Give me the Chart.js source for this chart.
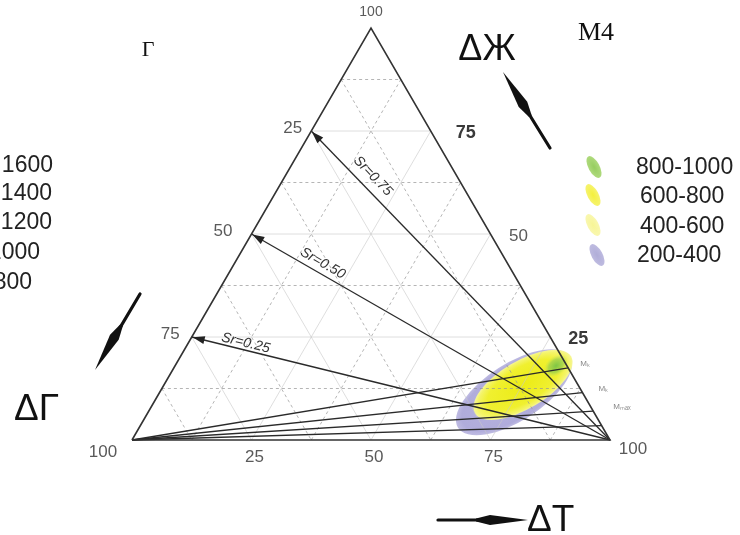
<!DOCTYPE html>
<html><head><meta charset="utf-8">
<script src="https://cdn.jsdelivr.net/npm/chart.js@4/dist/chart.umd.min.js"></script>
<style>html,body{margin:0;padding:0;background:#fff;overflow:hidden}#wrap{position:relative;width:740px;height:535px}</style>
</head><body><div id="wrap"><canvas id="c" width="740" height="535"></canvas></div>
<script>
// ---------------- DATA ----------------
const componentNames = ['ΔГ', 'ΔЖ', 'ΔT'];           // bottom-left, top, bottom-right vertices
const edgeTicks = [25, 50, 75];                       // labelled ticks on each side
const vertexTick = 100;
const gridLevels = [12.5, 25, 37.5, 50, 62.5, 75, 87.5];
const srLabels = ['Sr=0.75', 'Sr=0.50', 'Sr=0.25'];
const srStartG = [25, 50, 75];                        // Sr lines start on Г–Ж side at these ΔГ values, end at ΔT=100
const mEndJ = [17.5, 11.5, 7, 3.5];                   // M lines from ΔГ=100 to Ж–T side at these ΔЖ values
const mLabels = ['Mₖ', 'Mₖ', 'Mₘₐₓ'];
const rangeCategories = ['800-1000', '600-800', '400-600', '200-400'];
const leftScaleLabels = ['1600', '1400', '1200', '1000', '800'];
// regions: centre (Г,Ж,T), end of major axis (Г,Ж,T), minor half-width (% of side)
const regionPurple = { c: [14.3, 11.6, 74.1], e: [-1.7, 20.2, 81.5], w: 6.0 };
const regionYellow = { c: [11.5, 13.4, 75.1], e: [-2.0, 20.3, 81.7], w: 5.0 };
const regionGreen  = { c: [2.3, 18.0, 79.7], e: [-1.0, 20.1, 80.9], w: 2.0 };
const panelTitle = 'М4';
const sideLetter = 'Г';

// ---------------- HELPERS ----------------
function tp(g, j, t) { const s = g + j + t; return { x: (t + j / 2) / s * 100, y: j / s * 100 }; }
const PXX = 4.78, PXY = 4.12;               // px per data unit (layout)
const XMIN = -132 / PXX, XMAX = XMIN + 740 / PXX;
const YMAX = 100 + 28 / PXY, YMIN = YMAX - 535 / PXY;

function lineDS(pts, color, width, dash, order) {
  return { data: pts, showLine: true, borderColor: color, borderWidth: width, borderDash: dash || [],
           pointRadius: 0, pointHoverRadius: 0, fill: false, order: order, tension: 0 };
}
const datasets = [];
// grid
gridLevels.forEach(v => {
  const major = (v % 25 === 0);
  const col = major ? 'rgba(200,200,200,0.6)' : 'rgba(150,150,150,0.7)';
  const dash = major ? [] : [3, 3];
  datasets.push(lineDS([tp(100 - v, v, 0), tp(0, v, 100 - v)], col, 1, dash, 10));
  datasets.push(lineDS([tp(100 - v, 0, v), tp(0, 100 - v, v)], col, 1, dash, 10));
  datasets.push(lineDS([tp(v, 100 - v, 0), tp(v, 0, 100 - v)], col, 1, dash, 10));
});
// triangle
datasets.push(lineDS([tp(100, 0, 0), tp(0, 0, 100), tp(0, 100, 0), tp(100, 0, 0)], '#333', 1.6, [], 1));
// Sr lines
srStartG.forEach(g => datasets.push(lineDS([tp(g, 100 - g, 0), tp(0, 0, 100)], '#2a2a2a', 1.3, [], 2)));
// M lines
mEndJ.forEach(j => datasets.push(lineDS([tp(100, 0, 0), tp(0, j, 100 - j)], '#2a2a2a', 1.3, [], 2)));

// ---------------- PLUGINS ----------------
function px(chart, p) { return { x: chart.scales.x.getPixelForValue(p.x), y: chart.scales.y.getPixelForValue(p.y) }; }

function drawRegion(ctx, chart, r, stops) {
  const c = px(chart, tp(...r.c)), e = px(chart, tp(...r.e));
  const a = Math.atan2(e.y - c.y, e.x - c.x);
  const rx = Math.hypot(e.x - c.x, e.y - c.y);
  const ry = r.w * PXX;
  ctx.save();
  ctx.translate(c.x, c.y); ctx.rotate(a); ctx.scale(rx, ry);
  const g = ctx.createRadialGradient(0, 0, 0, 0, 0, 1);
  stops.forEach(s => g.addColorStop(s[0], s[1]));
  ctx.fillStyle = g;
  ctx.beginPath(); ctx.arc(0, 0, 1, 0, Math.PI * 2); ctx.fill();
  ctx.restore();
}

const regionPlugin = {
  id: 'regions',
  beforeDatasetsDraw(chart) {
    const ctx = chart.ctx;
    drawRegion(ctx, chart, regionPurple, [[0, 'rgb(184,180,224)'], [0.9, 'rgb(176,172,219)'], [1, 'rgba(180,176,221,0.85)']]);
    drawRegion(ctx, chart, regionYellow, [[0, 'rgb(236,236,22)'], [0.72, 'rgb(240,240,48)'], [0.92, 'rgb(244,244,105)'], [1, 'rgb(246,246,150)']]);
    drawRegion(ctx, chart, regionGreen, [[0, 'rgba(120,195,70,0.95)'], [0.6, 'rgba(150,205,80,0.7)'], [1, 'rgba(200,230,90,0)']]);
  }
};

function spear(ctx, tail, tip) {
  const dx = tip.x - tail.x, dy = tip.y - tail.y, L = Math.hypot(dx, dy);
  const ux = dx / L, uy = dy / L, nx = -uy, ny = ux;
  ctx.save();
  ctx.strokeStyle = '#111'; ctx.fillStyle = '#111'; ctx.lineWidth = 3.2; ctx.lineCap = 'round';
  ctx.beginPath(); ctx.moveTo(tail.x, tail.y); ctx.lineTo(tip.x - ux * 30, tip.y - uy * 30); ctx.stroke();
  const b = { x: tip.x - ux * 38, y: tip.y - uy * 38 };
  const b2 = { x: tip.x - ux * 52, y: tip.y - uy * 52 };
  ctx.beginPath();
  ctx.moveTo(tip.x, tip.y);
  ctx.lineTo(b.x + nx * 5, b.y + ny * 5);
  ctx.lineTo(b2.x + nx * 1.6, b2.y + ny * 1.6);
  ctx.lineTo(b2.x - nx * 1.6, b2.y - ny * 1.6);
  ctx.lineTo(b.x - nx * 5, b.y - ny * 5);
  ctx.closePath(); ctx.fill();
  ctx.restore();
}

const textPlugin = {
  id: 'texts',
  afterDatasetsDraw(chart) {
    const ctx = chart.ctx;
    ctx.save();
    // Sr arrowheads + labels
    const end = px(chart, tp(0, 0, 100));
    const srOff = [13, 10, 7], srU = [0.175, 0.185, 0.125];
    srStartG.forEach((g, i) => {
      const s = px(chart, tp(g, 100 - g, 0));
      const a = Math.atan2(end.y - s.y, end.x - s.x);
      ctx.save(); ctx.translate(s.x, s.y); ctx.rotate(a);
      ctx.fillStyle = '#222';
      ctx.beginPath(); ctx.moveTo(1, 0); ctx.lineTo(13, -4); ctx.lineTo(13, 4); ctx.closePath(); ctx.fill();
      ctx.restore();
      const L = Math.hypot(end.x - s.x, end.y - s.y);
      ctx.save();
      ctx.translate(s.x + Math.cos(a) * L * srU[i] + Math.sin(a) * srOff[i], s.y + Math.sin(a) * L * srU[i] - Math.cos(a) * srOff[i]);
      ctx.rotate(a);
      ctx.fillStyle = '#333'; ctx.font = 'italic 14px "Liberation Sans", Arial, sans-serif';
      ctx.textAlign = 'center'; ctx.textBaseline = 'middle';
      ctx.fillText(srLabels[i], 0, 0);
      ctx.restore();
    });
    // M labels
    ctx.fillStyle = '#888'; ctx.font = '8px "Liberation Sans", Arial, sans-serif'; ctx.textAlign = 'left'; ctx.textBaseline = 'middle';
    mLabels.forEach((m, i) => {
      const p = px(chart, tp(0, mEndJ[i], 100 - mEndJ[i]));
      ctx.fillText(m, p.x + 12 + i * 4, p.y - 4);
    });
    // edge tick labels
    ctx.textBaseline = 'middle';
    ctx.font = '17px "Liberation Sans", Arial, sans-serif'; ctx.fillStyle = '#5a5a5a';
    const leftOff = [-9, -19, -12];
    edgeTicks.forEach((v, i) => {   // left side: ΔГ
      const p = px(chart, tp(v, 100 - v, 0));
      ctx.textAlign = 'right'; ctx.fillText(String(v), p.x + leftOff[i], p.y - 3);
    });
    edgeTicks.forEach((v, i) => {   // bottom: ΔT
      const p = px(chart, tp(100 - v, 0, v));
      ctx.textAlign = 'center'; ctx.fillText(String(v), p.x + 3, p.y + 17);
    });
    const rightOff = { 25: 28, 50: 28, 75: 35 };
    edgeTicks.forEach(v => {          // right side: ΔЖ
      const p = px(chart, tp(0, v, 100 - v));
      ctx.textAlign = 'center';
      if (v === 50) { ctx.font = '17px "Liberation Sans", Arial, sans-serif'; ctx.fillStyle = '#5a5a5a'; }
      else { ctx.font = 'bold 18px "Liberation Sans", Arial, sans-serif'; ctx.fillStyle = '#3a3a3a'; }
      ctx.fillText(String(v), p.x + rightOff[v], p.y + 2);
    });
    ctx.font = '17px "Liberation Sans", Arial, sans-serif'; ctx.fillStyle = '#5a5a5a';
    let p = px(chart, tp(100, 0, 0)); ctx.textAlign = 'center'; ctx.fillText(String(vertexTick), p.x - 29, p.y + 12);
    p = px(chart, tp(0, 0, 100)); ctx.fillText(String(vertexTick), p.x + 23, p.y + 9);
    p = px(chart, tp(0, 100, 0)); ctx.font = '14px "Liberation Sans", Arial, sans-serif'; ctx.fillText(String(vertexTick), p.x, p.y - 16);

    // component labels + arrows
    ctx.fillStyle = '#111'; ctx.textBaseline = 'alphabetic';
    ctx.font = '36px "Liberation Sans", Arial, sans-serif'; ctx.textAlign = 'center';
    ctx.fillText(componentNames[1], 487, 60);
    ctx.textAlign = 'left';
    ctx.font = '37px "Liberation Sans", Arial, sans-serif';
    ctx.fillText(componentNames[0], 14, 420);
    ctx.fillText(componentNames[2], 527, 531);
    spear(ctx, { x: 550, y: 148 }, { x: 503, y: 72 });
    spear(ctx, { x: 140, y: 294 }, { x: 95, y: 370 });
    spear(ctx, { x: 438, y: 520 }, { x: 528, y: 520 });

    // titles
    ctx.font = '22px "Liberation Serif", "Times New Roman", serif'; ctx.fillStyle = '#111'; ctx.textAlign = 'center'; ctx.textBaseline = 'middle';
    ctx.fillText(sideLetter, 148, 50);
    ctx.font = '26px "Liberation Serif", "Times New Roman", serif';
    ctx.fillText(panelTitle, 596, 33);

    // left clipped scale labels
    ctx.font = '23px "Liberation Sans", Arial, sans-serif'; ctx.fillStyle = '#222'; ctx.textAlign = 'right';
    const lr = [53, 52, 52, 40, 32], ly = [166, 194, 223, 253, 283];
    leftScaleLabels.forEach((t, i) => ctx.fillText(t, lr[i], ly[i]));

    // right range legend
    const lc = [
      [[0, 'rgb(150,205,95)'], [1, 'rgb(175,218,125)']],
      [[0, 'rgb(244,240,60)'], [1, 'rgb(246,243,110)']],
      [[0, 'rgb(247,245,150)'], [1, 'rgb(249,247,175)']],
      [[0, 'rgb(176,173,216)'], [1, 'rgb(190,187,224)']]
    ];
    const lx = [594, 593, 593, 597], lyc = [167, 195, 225, 255];
    const tx = [636, 640, 640, 637], ty = [168, 197, 227, 256];
    rangeCategories.forEach((t, i) => {
      ctx.save(); ctx.translate(lx[i], lyc[i]); ctx.rotate(-0.5); ctx.scale(5.5, 12);
      const g = ctx.createRadialGradient(0, 0, 0, 0, 0, 1); lc[i].forEach(s => g.addColorStop(s[0], s[1]));
      ctx.fillStyle = g; ctx.beginPath(); ctx.arc(0, 0, 1, 0, Math.PI * 2); ctx.fill(); ctx.restore();
      ctx.fillStyle = '#222'; ctx.textAlign = 'left'; ctx.font = '23px "Liberation Sans", Arial, sans-serif';
      ctx.fillText(t, tx[i], ty[i]);
    });
    ctx.restore();
  }
};

new Chart(document.getElementById('c').getContext('2d'), {
  type: 'scatter',
  data: { datasets },
  options: {
    responsive: false, animation: false, devicePixelRatio: 1,
    layout: { padding: 0 },
    plugins: { legend: { display: false }, tooltip: { enabled: false } },
    scales: {
      x: { type: 'linear', display: false, min: XMIN, max: XMAX },
      y: { type: 'linear', display: false, min: YMIN, max: YMAX }
    }
  },
  plugins: [regionPlugin, textPlugin]
});
</script></body></html>
